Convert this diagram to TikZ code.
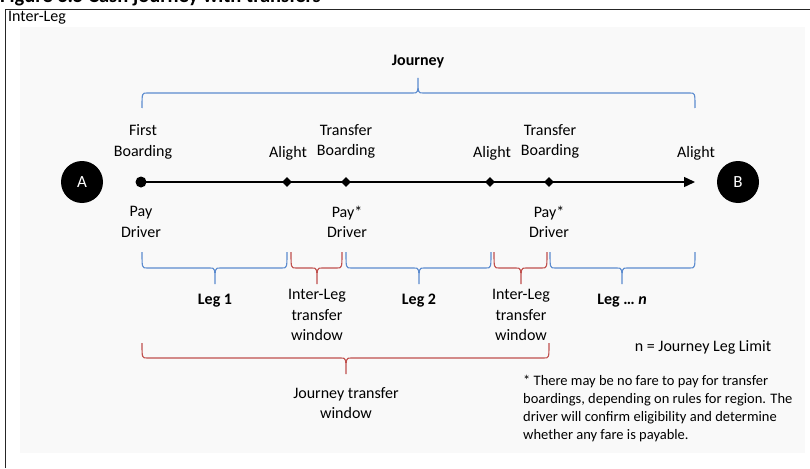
\documentclass[tikz,border=0pt]{standalone}
\usepackage{fontspec}
\setmainfont{Carlito}
\usetikzlibrary{shapes.geometric,arrows.meta}
\definecolor{legblue}{HTML}{5B8BCF}
\definecolor{winred}{HTML}{C0504D}
\definecolor{panel}{HTML}{F9F9F9}
\tikzset{
  lbl/.style={align=center,inner sep=0pt,font=\fontsize{16}{20.5}\selectfont},
  boldlbl/.style={lbl,font=\fontsize{16}{20.5}\selectfont\bfseries},
  stopmark/.style={diamond,fill=black,inner sep=0pt,minimum size=10pt},
  endpt/.style={circle,fill=black,text=white,minimum size=42pt,inner sep=0pt,font=\fontsize{17}{20}\selectfont},
  brc/.style={line width=1.1pt}
}
\begin{document}
\begin{tikzpicture}[x=1pt,y=-1pt]
    \useasboundingbox (0,0) rectangle (810,468);
    % frame and panel
    \fill[panel](20,27)rectangle(805,453);
    \draw[line width=0.9pt,black!85](5,468)--(5,9)--(810,9);
    \node[anchor=base west,inner sep=0pt,font=\fontsize{20.5}{22}\selectfont\bfseries] (title) at (0,3) {Figure 3.5 Cash journey with transfers};
    \node[anchor=west,inner sep=0pt,font=\fontsize{16}{18}\selectfont] (tag) at (8,18) {Inter-Leg};

    % time line
    \node[endpt] (A) at (82,182) {A};
    \node[endpt] (B) at (738,182) {B};
    \node[circle,fill=black,inner sep=0pt,minimum size=11pt] (first) at (141,182) {};
    \foreach \n/\x in {al1/287,tb1/346,al2/490,tb2/549}{
        \node[stopmark] (\n) at (\x,182) {};
    }
    \coordinate (last) at (695,182);
    \draw[line width=1.4pt,-{Triangle[length=11pt,width=10pt]}](first.center)--(last);

    % labels above and below the line
    \node[lbl] (fb) at (143,142) {First\\Boarding};
    \node[lbl] (alA) at (288,153) {Alight};
    \node[lbl] (tbA) at (346,141.5) {Transfer\\Boarding};
    \node[lbl] (alB) at (492,153) {Alight};
    \node[lbl] (tbB) at (550,141.5) {Transfer\\Boarding};
    \node[lbl] (alC) at (696,153) {Alight};
    \node[lbl] (pay0) at (141,222) {Pay\\Driver};
    \node[lbl] (pay1) at (347,222) {Pay*\\Driver};
    \node[lbl] (pay2) at (549,222) {Pay*\\Driver};

    % braces
    \draw[brc,legblue](142,108)..controls(142,93)..(147,93)--(413,93)..controls(418,93)..(418,78)
        ..controls(418,93)..(423,93)--(690,93)..controls(695,93)..(695,108);
    \foreach \xa/\xb/\xm/\c in {
        142/287/215/legblue,
        291/342/317/winred,
        346/491/419/legblue,
        494/547/521/winred,
        550/695/622/legblue}{
            \draw[brc,\c](\xa,252)..controls(\xa,268)..(\xa+5,268)--(\xm-5,268)..controls(\xm,268)..(\xm,284)
                ..controls(\xm,268)..(\xm+5,268)--(\xb-5,268)..controls(\xb,268)..(\xb,252);
        }
    \draw[brc,winred](142,343)..controls(142,358)..(147,358)--(341,358)..controls(346,358)..(346,374)
        ..controls(346,358)..(351,358)--(544,358)..controls(549,358)..(549,343);

    % brace labels
    \node[boldlbl] (journey) at (418,62) {Journey};
    \node[boldlbl] (leg1) at (215,301) {Leg 1};
    \node[lbl] (win1) at (317,315) {Inter-Leg\\transfer\\window};
    \node[boldlbl] (leg2) at (419,301) {Leg 2};
    \node[lbl] (win2) at (521,315) {Inter-Leg\\transfer\\window};
    \node[boldlbl] (legn) at (622,301) {Leg \dots\ \textit{n}};
    \node[lbl] (jwin) at (346,403) {Journey transfer\\window};
    \node[lbl] (limit) at (703,347) {n = Journey Leg Limit};
    \node[anchor=west,align=left,inner sep=0pt,font=\fontsize{14.5}{17.7}\selectfont] (note) at (523,408.5)
        {* There may be no fare to pay for transfer\\boardings, depending on rules for region. The\\driver will confirm eligibility and determine\\whether any fare is payable.};
\end{tikzpicture}
\end{document}
